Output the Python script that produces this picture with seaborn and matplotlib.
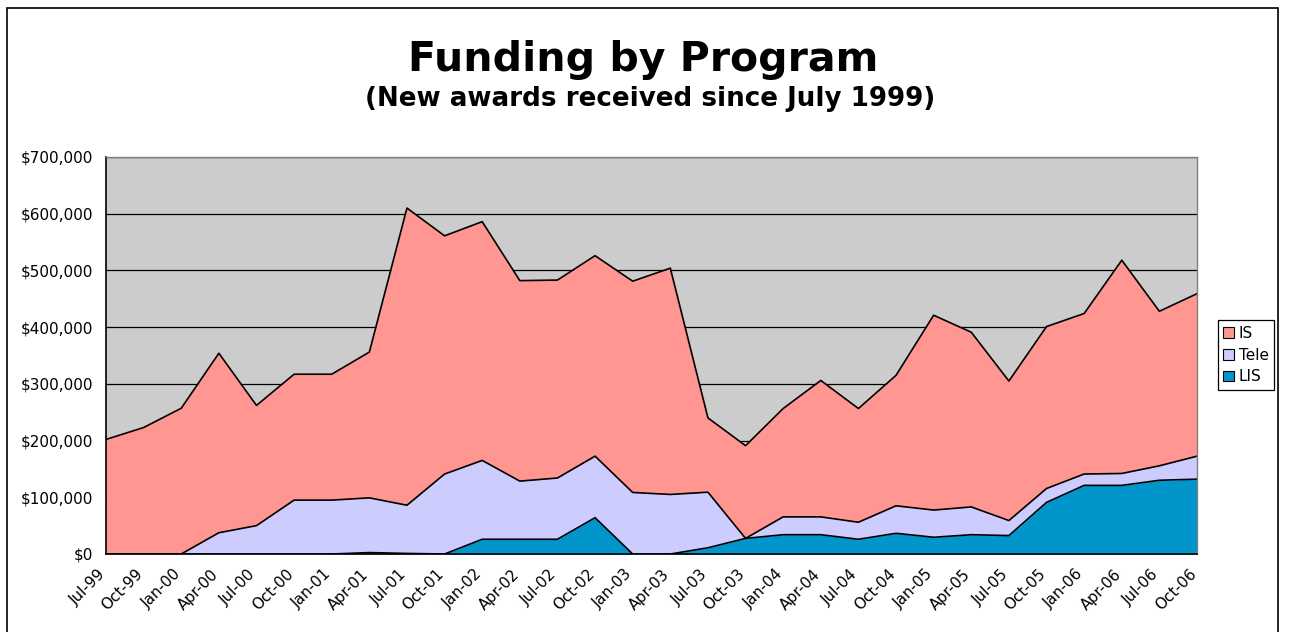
import numpy as np
import pandas as pd
import matplotlib
matplotlib.use("Agg")
import matplotlib.pyplot as plt
import seaborn as sns
from matplotlib.patches import Patch, Rectangle
from matplotlib.ticker import StrMethodFormatter
from matplotlib.transforms import ScaledTranslation

# quarterly new awards
quarters = ["Jul-99", "Oct-99", "Jan-00", "Apr-00", "Jul-00", "Oct-00", "Jan-01", "Apr-01",
            "Jul-01", "Oct-01", "Jan-02", "Apr-02", "Jul-02", "Oct-02", "Jan-03", "Apr-03",
            "Jul-03", "Oct-03", "Jan-04", "Apr-04", "Jul-04", "Oct-04", "Jan-05", "Apr-05",
            "Jul-05", "Oct-05", "Jan-06", "Apr-06", "Jul-06", "Oct-06"]
lis = [0, 0, 0, 0, 0, 0, 0, 2500, 1000, 0, 26000, 26000, 26000, 64000, 0, 0,
       11000, 27500, 34000, 34000, 26000, 36500, 29500, 34000, 32500, 91000, 121000, 121000, 130000, 132000]
tele = [0, 0, 0, 37500, 50000, 95000, 95000, 96500, 85000, 141000, 139000, 102500, 108000, 108500, 108500, 105000,
        98000, 0, 31500, 31500, 30000, 48500, 48000, 49000, 26500, 24500, 20000, 21000, 25500, 40500]
is_vals = [202000, 223000, 257000, 316500, 212000, 222000, 222000, 257000, 524000, 420000, 421000, 353500, 349000,
           353500, 372500, 399000, 131000, 163500, 191000, 240500, 200500, 230000, 343500, 308000, 246000, 285500,
           283000, 376000, 272500, 286500]
programs = ["IS", "Tele", "LIS"]
colors = {"IS": "#FF9691", "Tele": "#CCCCFF", "LIS": "#0096CC"}

df = pd.DataFrame({"quarter": quarters, "LIS": lis, "Tele": tele, "IS": is_vals})
df["x"] = np.arange(len(df))
df["LIS_top"] = df["LIS"]
df["Tele_top"] = df["LIS_top"] + df["Tele"]
df["IS_top"] = df["Tele_top"] + df["IS"]

sns.set_style("white")
plt.rcParams["font.family"] = ["DejaVu Sans"]
plt.rcParams["text.color"] = "black"

W, H = 1291, 632
fig = plt.figure(figsize=(W / 100, H / 100), dpi=100)
ax = fig.add_axes([106 / W, 1 - 554 / H, (1197 - 106) / W, (554 - 157) / H])
ax.set_facecolor("#CCCCCC")

ax.stackplot(df["x"], df["LIS"], df["Tele"], df["IS"],
             colors=[colors["LIS"], colors["Tele"], colors["IS"]], linewidth=0)
for col in ["LIS_top", "Tele_top", "IS_top"]:
    sns.lineplot(data=df, x="x", y=col, ax=ax, color="black", linewidth=1.2)

ax.set_xlim(0, len(df) - 1)
ax.set_ylim(0, 700000)
ax.set_yticks(np.arange(0, 700001, 100000))
ax.yaxis.set_major_formatter(StrMethodFormatter("${x:,.0f}"))
ax.set_xticks(df["x"])
ax.set_xticklabels(df["quarter"], rotation=45, ha="right", va="top", rotation_mode="anchor")
ax.set_xlabel("")
ax.set_ylabel("")
ax.tick_params(axis="both", direction="out", length=3, width=1, color="black",
               labelsize=11, labelcolor="black")
ax.tick_params(axis="y", pad=6)
ax.tick_params(axis="x", pad=6)
# nudge rotated date labels left, as in the original
for lab in ax.get_xticklabels():
    lab.set_transform(lab.get_transform() + ScaledTranslation(-6 / 72, 0, fig.dpi_scale_trans))
ax.yaxis.grid(True, color="black", linewidth=0.9)
ax.set_axisbelow(True)
for side in ["left", "bottom"]:
    ax.spines[side].set_color("black")
    ax.spines[side].set_linewidth(1.2)
for side in ["top", "right"]:
    ax.spines[side].set_color("#808080")
    ax.spines[side].set_linewidth(1)

fig.text(643 / W, 1 - 71 / H, "Funding by Program", ha="center", va="baseline",
         fontsize=29.5, fontweight="bold", color="black")
fig.text(650 / W, 1 - 106 / H, "(New awards received since July 1999)", ha="center", va="baseline",
         fontsize=18.8, fontweight="bold", color="black")

handles = [Patch(facecolor=colors[p], edgecolor="black", linewidth=0.8, label=p) for p in programs]
leg = fig.legend(handles=handles, loc="center left", bbox_to_anchor=(1218 / W, 1 - 355 / H),
                 fontsize=11, frameon=True, fancybox=False, edgecolor="black", framealpha=1,
                 handlelength=0.72, handleheight=0.72, handletextpad=0.3, labelspacing=0.45,
                 borderpad=0.35, borderaxespad=0)
leg.get_frame().set_linewidth(0.9)

fig.patches.append(Rectangle((7 / W, -0.1), (1278 - 7) / W, 1.1 - 8 / H, transform=fig.transFigure,
                             fill=False, edgecolor="black", linewidth=1.2, clip_on=False))

fig.savefig("out.png", dpi=100, facecolor="white")
